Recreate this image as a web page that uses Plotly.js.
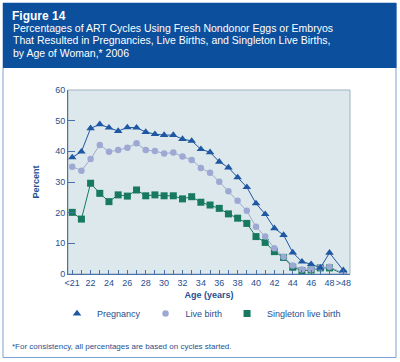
<!DOCTYPE html>
<html>
<head>
<meta charset="utf-8">
<script src="https://cdn.plot.ly/plotly-3.0.1.min.js"></script>
<style>
html,body{margin:0;padding:0;background:#ffffff;}
#chart{width:400px;height:362px;}
</style>
</head>
<body>
<div id="chart"></div>
<script>
// ---- Data ----
var ageLabels = ["<21","21","22","23","24","25","26","27","28","29","30","31","32","33","34","35","36","37","38","39","40","41","42","43","44","45","46","47","48",">48"];
var ageX = [20,21,22,23,24,25,26,27,28,29,30,31,32,33,34,35,36,37,38,39,40,41,42,43,44,45,46,47,48,49.5];
var tickLabels = ["<21","","22","","24","","26","","28","","30","","32","","34","","36","","38","","40","","42","","44","","46","","48",">48"];
var pregnancy = [38.0,39.9,47.5,48.8,47.7,46.6,47.8,47.7,46.3,45.6,45.3,45.3,44.0,43.4,40.7,39.7,36.6,34.7,31.5,28.3,23.0,19.5,14.9,12.7,7.0,4.0,3.2,2.0,6.9,1.2];
var liveBirth = [35.0,33.7,37.5,42.1,39.9,40.4,41.2,42.6,40.4,40.1,39.3,39.6,38.3,37.2,34.6,33.0,30.1,27.0,23.9,20.6,15.4,12.2,8.4,5.6,2.8,1.5,1.5,2.1,2.4,0.2];
var singleton = [20.1,17.9,29.6,26.3,23.6,25.8,25.4,27.4,25.5,25.8,25.5,25.5,24.5,25.2,23.4,22.5,21.4,19.6,18.2,16.5,12.2,10.3,7.3,5.4,2.2,1.1,1.3,2.0,2.0,0.0];

var cPreg = "#1f57a3", cLive = "#9ea9d3", cSing = "#17795f";
var txt = "#1f4f8f";
var FONT = "Liberation Sans, Arial, Helvetica, sans-serif";

// pixel -> paper helpers (plot area: x 68..350, y 90..274)
var L = 68, R = 50, T = 90, B = 88, W = 400, H = 362;
var pw = W - L - R, ph = H - T - B;
function px(x){ return (x - L) / pw; }
function py(y){ return (H - B - y) / ph; }

function series(name, y, color, symbol, size, rank){
  return [
    {x: ageX, y: y, type: "scatter", mode: "lines", line: {color: color, width: 1}, showlegend: false, hoverinfo: "skip"},
    {x: ageX, y: y, type: "scatter", mode: "markers", name: name, legendrank: rank,
     marker: {color: color, symbol: symbol, size: size, line: {width: 0}},
     text: ageLabels, hovertemplate: "%{text}: %{y}%<extra>" + name + "</extra>"}
  ];
}

var data = [].concat(
  series("Singleton live birth", singleton, cSing, "square", 7, 3),
  series("Live birth", liveBirth, cLive, "circle", 6.5, 2),
  series("Pregnancy", pregnancy, cPreg, "triangle-up", 7.5, 1)
);

var layout = {
  width: W, height: H,
  margin: {l: L, r: R, t: T, b: B, pad: 0},
  paper_bgcolor: "#ffffff",
  plot_bgcolor: "#dde8ec",
  font: {family: FONT, size: 9, color: txt},
  title: {text: "<b>Figure 14</b>", font: {family: FONT, size: 12, color: "#ffffff"},
          x: 12 / W, xanchor: "left", xref: "container", y: 1 - 16 / H, yanchor: "middle", yref: "container"},
  xaxis: {
    range: [19.54, 50.23], tickmode: "array", tickvals: ageX, ticktext: tickLabels, tickangle: 0,
    ticks: "inside", ticklen: 4, tickcolor: "#4a72aa", tickwidth: 1,
    showline: true, linecolor: "#4a72aa", linewidth: 1, showgrid: false, zeroline: false,
    tickfont: {size: 9, color: txt},
    title: {text: "<b>Age (years)</b>", font: {size: 9, color: txt}, standoff: 4}
  },
  yaxis: {
    range: [0, 60], dtick: 10, tick0: 0,
    ticks: "inside", ticklen: 7, tickcolor: "#4a72aa", tickwidth: 1,
    showline: true, linecolor: "#4a72aa", linewidth: 1, showgrid: false, zeroline: false,
    tickfont: {size: 9, color: txt},
    title: {text: "<b>Percent</b>", font: {size: 9, color: txt}, standoff: 14}
  },
  legend: {orientation: "h", x: px(57), xanchor: "left", y: py(299), yanchor: "top",
           font: {size: 9, color: txt}, bgcolor: "rgba(0,0,0,0)", itemwidth: 30},
  shapes: [
    {type: "rect", xref: "paper", yref: "paper", x0: px(3), x1: px(396), y0: py(357.5), y1: py(3),
     line: {color: "#7aa3d2", width: 1}, fillcolor: "rgba(0,0,0,0)", layer: "below"},
    {type: "rect", xref: "paper", yref: "paper", x0: px(3), x1: px(396.5), y0: py(68), y1: py(3),
     line: {width: 0}, fillcolor: "#0c4f9d", layer: "below"},
    {type: "rect", xref: "paper", yref: "paper", x0: 0, x1: 1, y0: 0, y1: 1,
     line: {color: "#9db3c2", width: 1}, fillcolor: "rgba(0,0,0,0)", layer: "below"}
  ],
  annotations: [
    {text: "Percentages of ART Cycles Using Fresh Nondonor Eggs or Embryos", xref: "paper", yref: "paper",
     x: px(11), y: py(28.5), xanchor: "left", yanchor: "middle", showarrow: false, font: {size: 10.5, color: "#ffffff"}},
    {text: "That Resulted in Pregnancies, Live Births, and Singleton Live Births,", xref: "paper", yref: "paper",
     x: px(11), y: py(40.5), xanchor: "left", yanchor: "middle", showarrow: false, font: {size: 10.5, color: "#ffffff"}},
    {text: "by Age of Woman,* 2006", xref: "paper", yref: "paper",
     x: px(11), y: py(53), xanchor: "left", yanchor: "middle", showarrow: false, font: {size: 10.5, color: "#ffffff"}},
    {text: "*For consistency, all percentages are based on cycles started.", xref: "paper", yref: "paper",
     x: px(10), y: py(346), xanchor: "left", yanchor: "middle", showarrow: false, font: {size: 8, color: txt}}
  ]
};

Plotly.newPlot("chart", data, layout, {displayModeBar: false, staticPlot: true});
</script>
</body>
</html>
